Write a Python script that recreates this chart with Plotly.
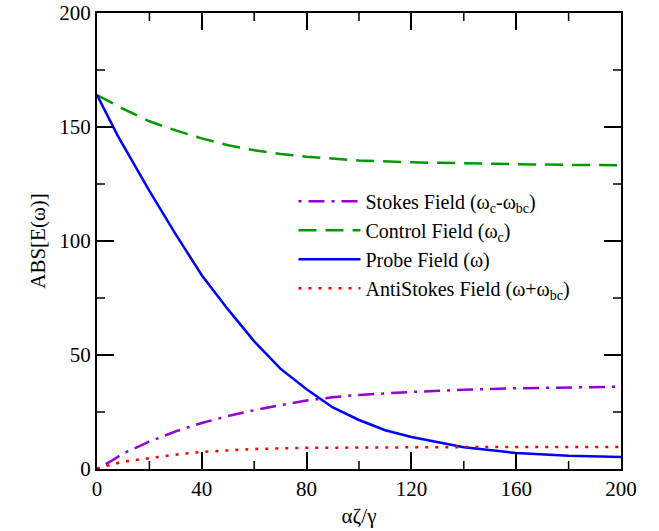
import plotly.graph_objects as go

x_probe = [0, 8, 20, 30, 40, 50, 60, 70, 80, 90, 100, 110, 120, 140, 160, 180, 200]
y_probe = [164, 146, 122, 103, 85, 70, 56, 44, 35, 27, 21.5, 17, 14, 9.5, 7, 5.8, 5.3]

x_control = [0, 10, 20, 30, 40, 50, 60, 70, 80, 90, 100, 120, 140, 160, 180, 200]
y_control = [164, 158, 152.5, 148.5, 145, 142, 139.8, 138.2, 137, 136, 135.3, 134.5, 134, 133.7, 133.4, 133.2]

x_stokes = [0, 5, 10, 20, 30, 40, 50, 60, 70, 80, 90, 100, 120, 140, 160, 180, 200]
y_stokes = [0, 3.2, 6.8, 12, 16.5, 20.2, 23.2, 25.8, 28, 30, 31.5, 32.5, 33.8, 34.8, 35.4, 35.8, 36.1]

x_anti = [0, 5, 10, 20, 30, 40, 50, 60, 80, 100, 120, 140, 160, 200]
y_anti = [0, 1.8, 3.2, 4.8, 6.3, 7.5, 8.3, 8.8, 9.3, 9.5, 9.6, 9.6, 9.6, 9.6]

x_major = [0, 40, 80, 120, 160, 200]
x_minor = [20, 60, 100, 140, 180]
y_major = [0, 50, 100, 150, 200]
y_minor = [25, 75, 125, 175]

names = ["Stokes Field (ω<sub>c</sub>-ω<sub>bc</sub>)",
         "Control Field (ω<sub>c</sub>)",
         "Probe Field (ω)",
         "AntiStokes Field (ω+ω<sub>bc</sub>)"]

fig = go.Figure()
fig.add_trace(go.Scatter(x=x_stokes, y=y_stokes, mode="lines", name=names[0],
                         line=dict(color="#9400D3", width=2.5, dash="3px,7px,16px,7px")))
fig.add_trace(go.Scatter(x=x_control, y=y_control, mode="lines", name=names[1],
                         line=dict(color="#009900", width=2.5, dash="18px,9px")))
fig.add_trace(go.Scatter(x=x_probe, y=y_probe, mode="lines", name=names[2],
                         line=dict(color="#0000FF", width=2.5)))
fig.add_trace(go.Scatter(x=x_anti, y=y_anti, mode="lines", name=names[3],
                         line=dict(color="#FF0000", width=2.5, dash="3px,7px")))

font_family = "Liberation Serif"
fs = 21
tick_font = dict(family=font_family, size=fs, color="black")

W, H = 659, 531
ML, MR, MT, MB = 97, 38, 13, 62
plot_w = W - ML - MR
plot_h = H - MT - MB
minor_len = 8
tick_line = dict(color="black", width=1.5)

fig.update_layout(
    width=W, height=H,
    margin=dict(l=ML, r=MR, t=MT, b=MB, autoexpand=False),
    plot_bgcolor="white", paper_bgcolor="white",
    font=dict(family=font_family, size=fs, color="black"),
    xaxis=dict(range=[0, 200], tickmode="array", tickvals=x_major,
               showline=True, linecolor="black", linewidth=2, mirror="ticks",
               ticks="inside", ticklen=17, tickwidth=1.5, tickcolor="black",
               showgrid=False, zeroline=False, automargin=False,
               tickfont=tick_font, ticklabeloverflow="allow",
               title=dict(text="αζ/γ", font=tick_font, standoff=8)),
    yaxis=dict(range=[0, 200], tickmode="array", tickvals=y_major,
               showline=True, linecolor="black", linewidth=2, mirror="ticks",
               ticks="inside", ticklen=17, tickwidth=1.5, tickcolor="black",
               showgrid=False, zeroline=False, automargin=False,
               tickfont=tick_font, ticklabeloverflow="allow",
               title=dict(text="ABS[E(ω)]", font=tick_font, standoff=8)),
    legend=dict(x=0.375, y=0.63, xanchor="left", yanchor="top",
                bgcolor="rgba(0,0,0,0)", itemwidth=62,
                font=dict(family=font_family, size=20, color="black"),
                tracegroupgap=0),
    showlegend=True,
)

# minor ticks (inside, on all four sides), positioned through the axis scales
fx = minor_len / plot_h
fy = minor_len / plot_w
for v in x_minor:
    fig.add_shape(type="line", xref="x", yref="y domain", x0=v, x1=v, y0=0, y1=fx,
                  line=tick_line, layer="above")
    fig.add_shape(type="line", xref="x", yref="y domain", x0=v, x1=v, y0=1 - fx, y1=1,
                  line=tick_line, layer="above")
for v in y_minor:
    fig.add_shape(type="line", xref="x domain", yref="y", x0=0, x1=fy, y0=v, y1=v,
                  line=tick_line, layer="above")
    fig.add_shape(type="line", xref="x domain", yref="y", x0=1 - fy, x1=1, y0=v, y1=v,
                  line=tick_line, layer="above")

fig.write_html("out.html", config={"displayModeBar": False},
               post_script="document.body.style.margin='0';")
